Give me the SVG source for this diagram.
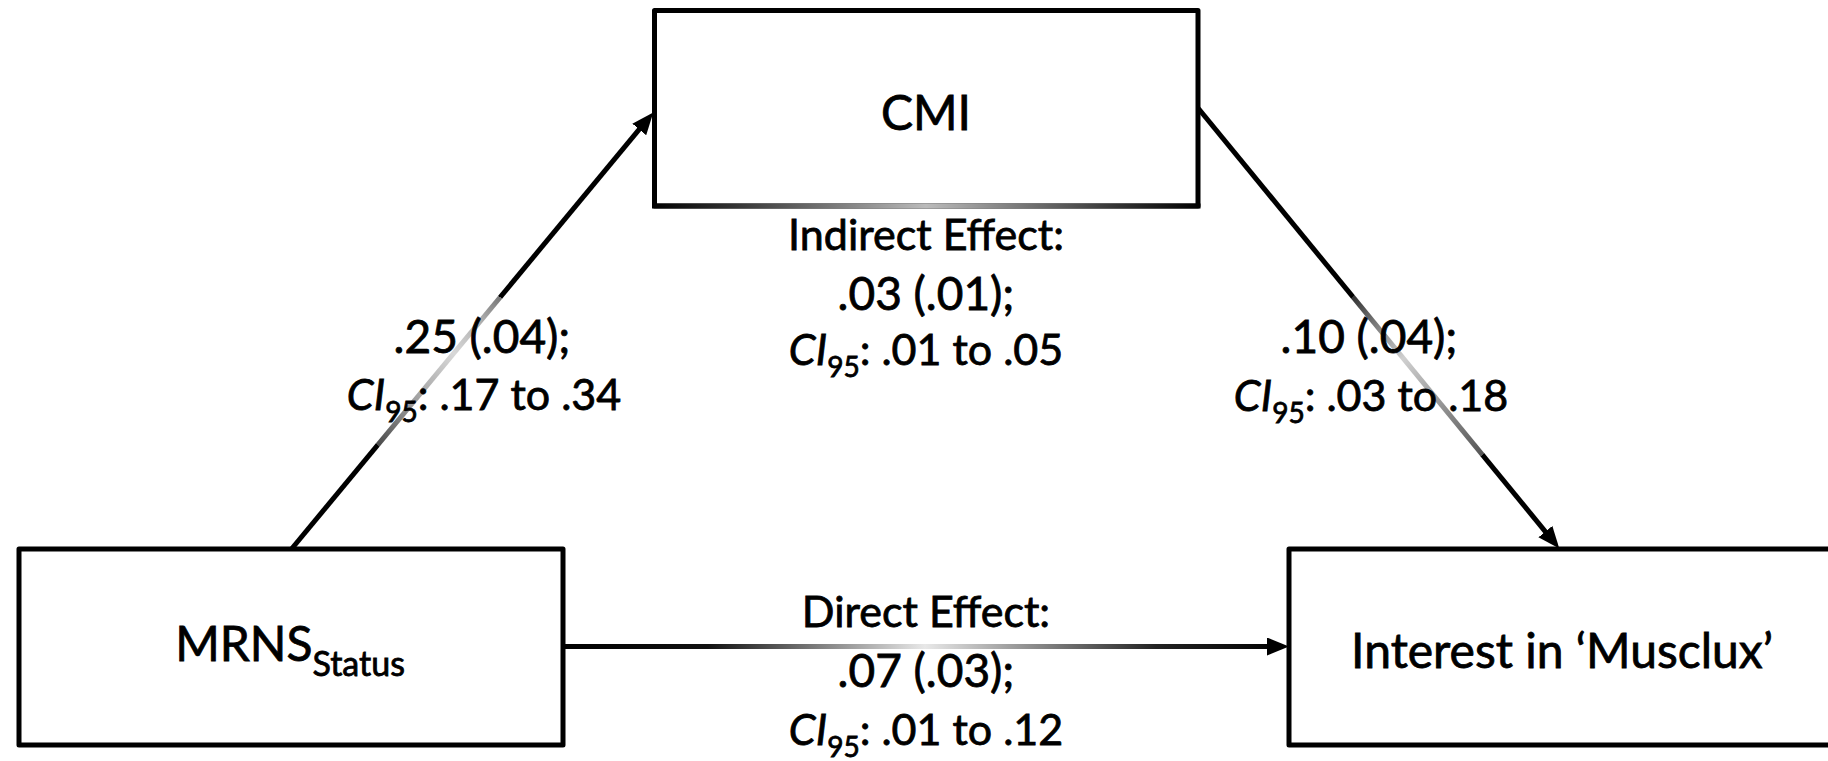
<svg xmlns="http://www.w3.org/2000/svg" width="1828" height="761" viewBox="0 0 1828 761">
<style>
.box{fill:#fff;stroke:#000;stroke-width:5;stroke-linejoin:round}
.lbl{font-family:Lato,"Open Sans","Liberation Sans",sans-serif;font-size:43px;fill:#000;stroke:#000;stroke-width:0.8px;text-anchor:middle}
.big{font-size:46px}
.node{font-family:Lato,"Open Sans","Liberation Sans",sans-serif;font-size:48px;fill:#000;stroke:#000;stroke-width:0.8px;text-anchor:middle}
.conn{fill:none;stroke-width:5}
</style>
<defs>
<marker id="ah" markerUnits="userSpaceOnUse" markerWidth="24" markerHeight="20" refX="10" refY="9" orient="auto">
<path d="M0,0 L22,9 L0,18 z" fill="#000"/>
</marker>
<linearGradient id="g1" gradientUnits="userSpaceOnUse" x1="291.5" y1="549" x2="652" y2="114">
<stop offset="0" stop-color="#000"/><stop offset="0.239" stop-color="#000"/>
<stop offset="0.239" stop-color="#4a4a4a"/><stop offset="0.33" stop-color="#999"/>
<stop offset="0.45" stop-color="#d8d8d8"/><stop offset="0.53" stop-color="#aaa"/>
<stop offset="0.579" stop-color="#777"/><stop offset="0.579" stop-color="#000"/>
<stop offset="1" stop-color="#000"/>
</linearGradient>
<linearGradient id="g2" gradientUnits="userSpaceOnUse" x1="1198" y1="108" x2="1558" y2="547">
<stop offset="0" stop-color="#000"/><stop offset="0.43" stop-color="#000"/>
<stop offset="0.43" stop-color="#333"/><stop offset="0.57" stop-color="#d0d0d0"/>
<stop offset="0.79" stop-color="#555"/><stop offset="0.79" stop-color="#000"/>
<stop offset="1" stop-color="#000"/>
</linearGradient>
<linearGradient id="g3" gradientUnits="userSpaceOnUse" x1="563" y1="0" x2="1287" y2="0">
<stop offset="0" stop-color="#000"/><stop offset="0.2" stop-color="#111"/>
<stop offset="0.5" stop-color="#e8e8e8"/><stop offset="0.82" stop-color="#222"/>
<stop offset="1" stop-color="#000"/>
</linearGradient>
<linearGradient id="g4" gradientUnits="userSpaceOnUse" x1="652" y1="0" x2="1200" y2="0">
<stop offset="0" stop-color="#000"/><stop offset="0.15" stop-color="#333"/>
<stop offset="0.5" stop-color="#bbb"/><stop offset="0.85" stop-color="#333"/>
<stop offset="1" stop-color="#000"/>
</linearGradient>
</defs>

<g id="node-cmi">
<rect class="box" x="654.5" y="10.5" width="543.5" height="195.5"/>
<line x1="652" y1="206" x2="1200.5" y2="206" stroke="url(#g4)" stroke-width="5"/>
<text class="node" x="926" y="130">CMI</text>
</g>

<g id="node-mrns">
<rect class="box" x="19" y="549" width="544" height="196"/>
<text class="node" x="290" y="661">MRNS<tspan font-size="34" dy="15">Status</tspan></text>
</g>

<g id="node-interest">
<rect class="box" x="1289" y="549" width="544" height="196"/>
<text class="node" x="1562" y="668">Interest in ‘Musclux’</text>
</g>

<g id="connectors">
<path class="conn" d="M291.5,549 L645.6,121.7" stroke="url(#g1)" marker-end="url(#ah)"/>
<path class="conn" d="M1198,108 L1551.7,539.3" stroke="url(#g2)" marker-end="url(#ah)"/>
<path class="conn" d="M563,646.5 L1277,646.5" stroke="url(#g3)" marker-end="url(#ah)"/>
</g>

<g id="labels">
<text class="lbl big" x="482" y="353">.25 (.04);</text>
<text class="lbl" x="484" y="410"><tspan font-style="italic">CI</tspan><tspan font-size="28" dy="12">95</tspan><tspan dy="-12">: .17 to .34</tspan></text>

<text class="lbl" x="926" y="250">Indirect Effect:</text>
<text class="lbl big" x="926" y="310">.03 (.01);</text>
<text class="lbl" x="926" y="365"><tspan font-style="italic">CI</tspan><tspan font-size="28" dy="12">95</tspan><tspan dy="-12">: .01 to .05</tspan></text>

<text class="lbl big" x="1369" y="353">.10 (.04);</text>
<text class="lbl" x="1371" y="411"><tspan font-style="italic">CI</tspan><tspan font-size="28" dy="12">95</tspan><tspan dy="-12">: .03 to .18</tspan></text>

<text class="lbl" x="926" y="627">Direct Effect:</text>
<text class="lbl big" x="926" y="687">.07 (.03);</text>
<text class="lbl" x="926" y="745"><tspan font-style="italic">CI</tspan><tspan font-size="28" dy="12">95</tspan><tspan dy="-12">: .01 to .12</tspan></text>
</g>
</svg>
